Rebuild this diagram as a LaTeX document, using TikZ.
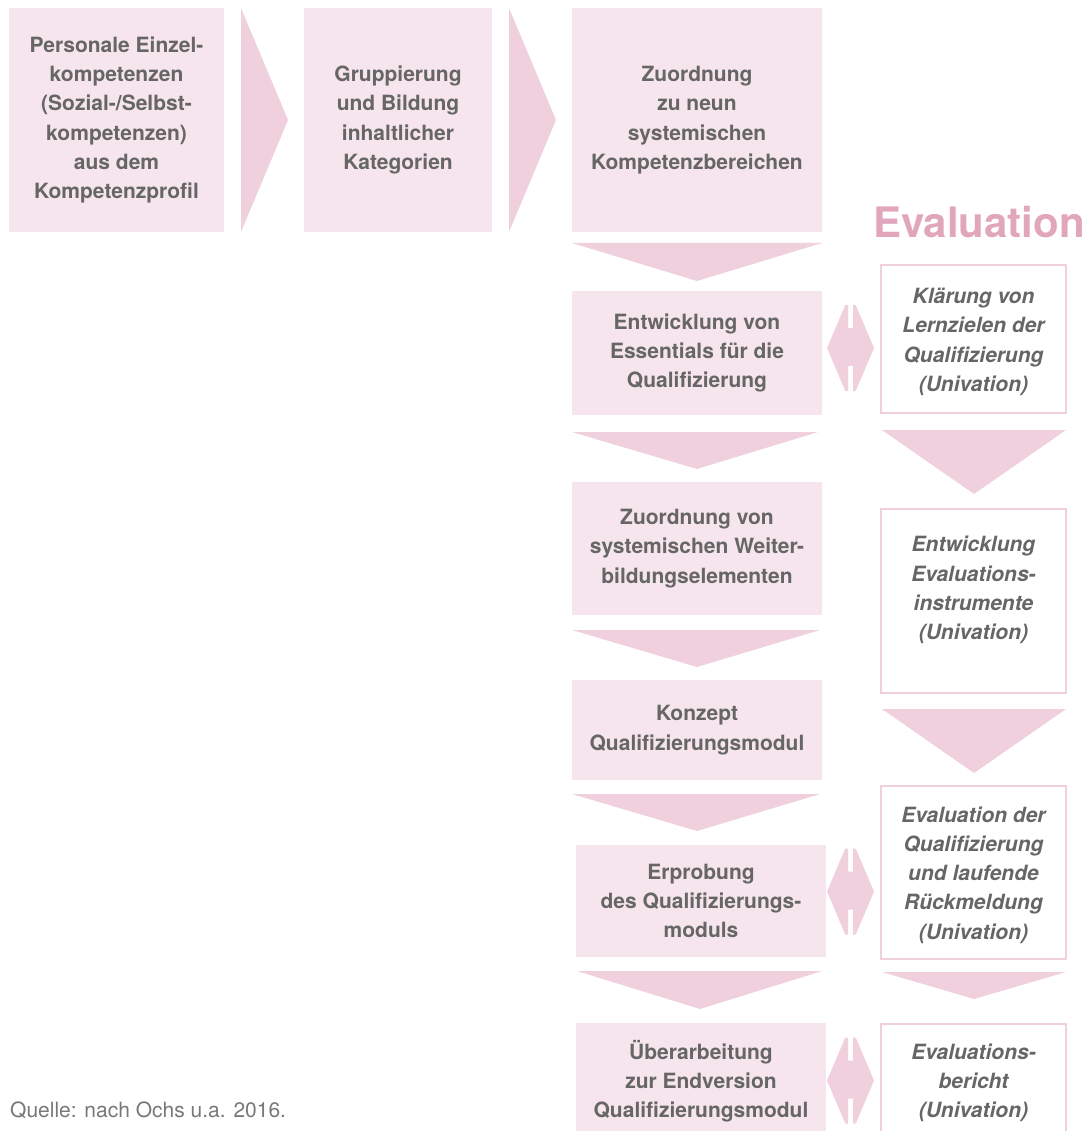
\documentclass[tikz,border=0pt]{standalone}
\usepackage{fontspec}
\setmainfont{TeX Gyre Heros}
\usetikzlibrary{positioning,calc}

\definecolor{boxpink}{RGB}{246,229,236}
\definecolor{arrpink}{RGB}{239,208,220}
\definecolor{titlepink}{RGB}{226,166,188}
\definecolor{txtgrey}{RGB}{102,102,102}
\definecolor{srcgrey}{RGB}{120,120,120}

\begin{document}
\begin{tikzpicture}[x=1pt,y=-1pt,
    box/.style={fill=boxpink, text=txtgrey, align=center, inner sep=0pt,
        font=\fontsize{21}{29.3}\selectfont\bfseries},
    evalbox/.style={draw=arrpink, line width=2.5pt, fill=white, inner sep=0pt},
    evaltext/.style={text=txtgrey, align=center, inner sep=0pt,
        font=\fontsize{21}{29.3}\selectfont\bfseries\itshape},
    arr/.style={fill=arrpink}]
    \useasboundingbox (0,0) rectangle (1087,1131);

    % the first row
    \node[box, minimum width=215, minimum height=224] (einzel) at (116.5,120)
        {Personale Einzel-\\kompetenzen\\(Sozial-/Selbst-\\kompetenzen)\\aus dem\\Kompetenzprofil};
    \node[box, minimum width=188, minimum height=224] (gruppe) at (398,120)
        {Gruppierung\\und Bildung\\inhaltlicher\\Kategorien};
    \node[box, minimum width=250, minimum height=224] (bereich) at (697,120)
        {Zuordnung\\zu neun\\systemischen\\Kompetenzbereichen};

    % arrows to the right
    \fill[arr] (241,8) -- (288,120) -- (241,232) -- cycle;
    \fill[arr] (509,8) -- (556,120) -- (509,232) -- cycle;

    % the left column
    \node[box, minimum width=250, minimum height=124] (essent) at (697,353)
        {Entwicklung von\\Essentials für die\\Qualifizierung};
    \node[box, minimum width=250, minimum height=133] (weiter) at (697,548.5)
        {Zuordnung von\\systemischen Weiter-\\bildungselementen};
    \node[box, minimum width=250, minimum height=100] (konzept) at (697,730)
        {Konzept\\Qualifizierungsmodul};
    \node[box, minimum width=250, minimum height=112] (erprob) at (701,901)
        {Erprobung\\des Qualifizierungs-\\moduls};
    \node[box, minimum width=250, minimum height=116] (ueber) at (701,1081)
        {Überarbeitung\\zur Endversion\\Qualifizierungsmodul};

    % the evaluation column
    \node[anchor=base east, text=titlepink, inner sep=0pt,
        font=\fontsize{42}{42}\selectfont\bfseries] (evtitle) at (1085,238) {Evaluation};
    \node[evalbox, minimum width=185, minimum height=148] (klaer) at (973.5,339) {};
    \node[evaltext] at (973.5,342) {Klärung von\\Lernzielen der\\Qualifizierung\\(Univation)};
    \node[evalbox, minimum width=185, minimum height=184] (instr) at (973.5,601) {};
    \node[evaltext] at (973.5,590) {Entwicklung\\Evaluations-\\instrumente\\(Univation)};
    \node[evalbox, minimum width=185, minimum height=173] (rueck) at (973.5,872.5) {};
    \node[evaltext] at (973.5,875) {Evaluation der\\Qualifizierung\\und laufende\\Rückmeldung\\(Univation)};
    \node[evalbox, minimum width=185, minimum height=114] (bericht) at (973.5,1081) {};
    \node[evaltext] at (973.5,1083) {Evaluations-\\bericht\\(Univation)};

    % arrows down
    \foreach \xa/\xb/\xc/\ya/\yb in {572/822/697/243/281, 572/818/697/432/469,
        572/820/697/630/667, 572/820/697/794/831, 577/822/700/971/1009,
        882/1066/974/430/494, 882/1066/974/709/773, 882/1066/974/972/999}
        \fill[arr] (\xa,\ya) -- (\xb,\ya) -- (\xc,\yb) -- cycle;

    % arrows in both directions
    \foreach \y in {348,891.5,1080.5} {
        \begin{scope}[shift={(850.5,\y)}]
            \fill[arr] (-23.5,0) -- (-5.2,-43) -- (-2.5,-43) -- (-2.5,-20) -- (2.5,-20)
                -- (2.5,-43) -- (5.2,-43) -- (23.5,0) -- (5.2,43) -- (2.5,43) -- (2.5,18)
                -- (-2.5,18) -- (-2.5,43) -- (-5.2,43) -- cycle;
        \end{scope}
    }

    % source
    \node[anchor=base west, text=srcgrey, inner sep=0pt,
        font=\fontsize{21}{25}\selectfont] (quelle) at (10,1117) {Quelle: nach Ochs u.a. 2016.};
\end{tikzpicture}
\end{document}
